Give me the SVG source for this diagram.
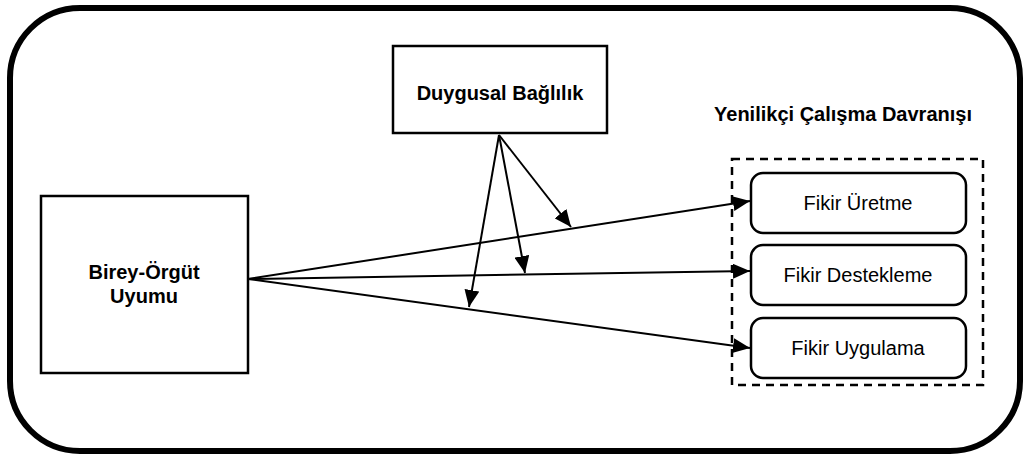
<svg xmlns="http://www.w3.org/2000/svg" width="1028" height="459" viewBox="0 0 1028 459">
<style>
.box{fill:#fff;stroke:#000;stroke-width:2.5}
.rbox{fill:#fff;stroke:#000;stroke-width:2.5}
.b{font-family:"Liberation Sans",Arial,sans-serif;font-weight:bold;font-size:20px;fill:#000;text-anchor:middle}
.r{font-family:"Liberation Sans",Arial,sans-serif;font-size:20px;fill:#000;text-anchor:middle}
.conn{stroke:#000;stroke-width:2;fill:none;marker-end:url(#ah)}
</style>
<defs>
<marker id="ah" markerUnits="userSpaceOnUse" markerWidth="17" markerHeight="15" refX="17" refY="7.5" orient="auto">
<path d="M0,0 L17,7.5 L0,15 Z" fill="#000"/>
</marker>
</defs>
<rect x="10" y="8" width="1010" height="443" rx="70" ry="70" fill="#fff" stroke="#000" stroke-width="6"/>
<g id="duygusal">
<rect class="box" x="393" y="46" width="214" height="87"/>
<text class="b" x="500" y="100">Duygusal Bağlılık</text>
</g>
<g id="birey">
<rect class="box" x="41" y="196" width="207" height="177"/>
<text class="b" x="144" y="279">Birey-Örgüt</text>
<text class="b" x="144" y="303">Uyumu</text>
</g>
<g id="yenilikci">
<text class="b" x="843" y="121">Yenilikçi Çalışma Davranışı</text>
<rect x="732" y="159" width="251" height="226" fill="none" stroke="#000" stroke-width="2.5" stroke-dasharray="8,6"/>
</g>
<g id="uretme">
<rect class="rbox" x="751" y="173" width="215" height="60" rx="12"/>
<text class="r" x="858" y="210">Fikir Üretme</text>
</g>
<g id="destekleme">
<rect class="rbox" x="751" y="245" width="215" height="60" rx="12"/>
<text class="r" x="858" y="282">Fikir Destekleme</text>
</g>
<g id="uygulama">
<rect class="rbox" x="751" y="318" width="215" height="60" rx="12"/>
<text class="r" x="858" y="355">Fikir Uygulama</text>
</g>
<g id="connectors">
<line class="conn" x1="248" y1="279" x2="750" y2="201"/>
<line class="conn" x1="248" y1="279" x2="750" y2="271"/>
<line class="conn" x1="248" y1="279" x2="750" y2="348"/>
<line class="conn" x1="499" y1="135" x2="571" y2="227"/>
<line class="conn" x1="499" y1="135" x2="525" y2="273"/>
<line class="conn" x1="499" y1="135" x2="469" y2="307"/>
</g>
</svg>
